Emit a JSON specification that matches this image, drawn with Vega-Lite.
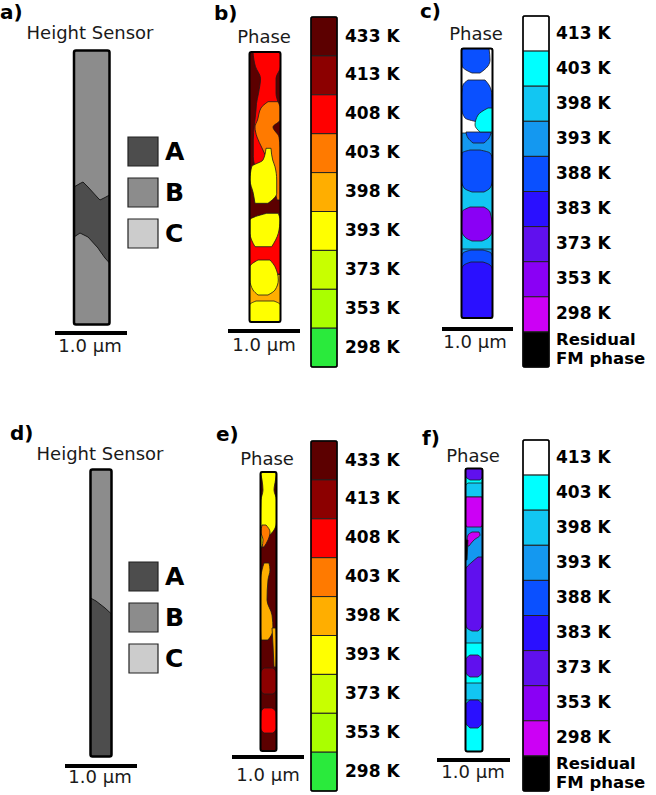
{
"$schema": "https://vega.github.io/schema/vega-lite/v6.json",
"width": 656, "height": 795, "padding": 0,
"autosize": {"type": "none"},
"background": "white",
"config": {"view": {"stroke": null}},
"datasets": {
"rects": [
{"x1":74,"x2":109.5,"y1":50.5,"y2":324.5,"fill":"#8c8c8c","sw":0},
{"x1":249.5,"x2":280.5,"y1":52,"y2":322,"fill":"#5c0000","sw":0},
{"x1":461.5,"x2":492.5,"y1":48.5,"y2":318,"fill":"#1498f0","sw":0},
{"x1":90.5,"x2":111.5,"y1":469.5,"y2":756.5,"fill":"#4d4d4d","sw":0},
{"x1":260.5,"x2":276.5,"y1":472,"y2":751,"fill":"#5c0000","sw":0},
{"x1":465.5,"x2":482.5,"y1":468.5,"y2":751.5,"fill":"#00ffff","sw":0},
{"x1":128,"x2":158,"y1":137,"y2":166,"fill":"#4d4d4d","sw":1.2},
{"x1":128,"x2":158,"y1":178,"y2":207,"fill":"#8c8c8c","sw":1.2},
{"x1":128,"x2":158,"y1":219,"y2":248,"fill":"#cccccc","sw":1.2},
{"x1":129,"x2":158,"y1":562,"y2":591,"fill":"#4d4d4d","sw":1.2},
{"x1":129,"x2":158,"y1":603,"y2":632,"fill":"#8c8c8c","sw":1.2},
{"x1":129,"x2":158,"y1":644,"y2":673,"fill":"#cccccc","sw":1.2},
{"x1":311,"x2":337,"y1":17,"y2":55.9,"fill":"#5c0000","sw":1},
{"x1":311,"x2":337,"y1":55.9,"y2":94.8,"fill":"#8c0000","sw":1},
{"x1":311,"x2":337,"y1":94.8,"y2":133.7,"fill":"#ff0000","sw":1},
{"x1":311,"x2":337,"y1":133.7,"y2":172.6,"fill":"#ff7a00","sw":1},
{"x1":311,"x2":337,"y1":172.6,"y2":211.5,"fill":"#ffae00","sw":1},
{"x1":311,"x2":337,"y1":211.5,"y2":250.4,"fill":"#ffff00","sw":1},
{"x1":311,"x2":337,"y1":250.4,"y2":289.3,"fill":"#c8ff00","sw":1},
{"x1":311,"x2":337,"y1":289.3,"y2":328.2,"fill":"#aaff00","sw":1},
{"x1":311,"x2":337,"y1":328.2,"y2":367,"fill":"#2aea3c","sw":1},
{"x1":311,"x2":337,"y1":441,"y2":479.9,"fill":"#5c0000","sw":1},
{"x1":311,"x2":337,"y1":479.9,"y2":518.8,"fill":"#8c0000","sw":1},
{"x1":311,"x2":337,"y1":518.8,"y2":557.7,"fill":"#ff0000","sw":1},
{"x1":311,"x2":337,"y1":557.7,"y2":596.6,"fill":"#ff7a00","sw":1},
{"x1":311,"x2":337,"y1":596.6,"y2":635.5,"fill":"#ffae00","sw":1},
{"x1":311,"x2":337,"y1":635.5,"y2":674.4,"fill":"#ffff00","sw":1},
{"x1":311,"x2":337,"y1":674.4,"y2":713.3,"fill":"#c8ff00","sw":1},
{"x1":311,"x2":337,"y1":713.3,"y2":752.2,"fill":"#aaff00","sw":1},
{"x1":311,"x2":337,"y1":752.2,"y2":791,"fill":"#2aea3c","sw":1},
{"x1":523,"x2":549,"y1":16,"y2":51.1,"fill":"#ffffff","sw":1},
{"x1":523,"x2":549,"y1":51.1,"y2":86.2,"fill":"#00ffff","sw":1},
{"x1":523,"x2":549,"y1":86.2,"y2":121.3,"fill":"#12c6f2","sw":1},
{"x1":523,"x2":549,"y1":121.3,"y2":156.4,"fill":"#1498f0","sw":1},
{"x1":523,"x2":549,"y1":156.4,"y2":191.5,"fill":"#0a50ff","sw":1},
{"x1":523,"x2":549,"y1":191.5,"y2":226.6,"fill":"#2a10ff","sw":1},
{"x1":523,"x2":549,"y1":226.6,"y2":261.7,"fill":"#6010ee","sw":1},
{"x1":523,"x2":549,"y1":261.7,"y2":296.8,"fill":"#8a00f5","sw":1},
{"x1":523,"x2":549,"y1":296.8,"y2":331.9,"fill":"#cc00f5","sw":1},
{"x1":523,"x2":549,"y1":331.9,"y2":367,"fill":"#000000","sw":1},
{"x1":523,"x2":549,"y1":440,"y2":475.1,"fill":"#ffffff","sw":1},
{"x1":523,"x2":549,"y1":475.1,"y2":510.2,"fill":"#00ffff","sw":1},
{"x1":523,"x2":549,"y1":510.2,"y2":545.3,"fill":"#12c6f2","sw":1},
{"x1":523,"x2":549,"y1":545.3,"y2":580.4,"fill":"#1498f0","sw":1},
{"x1":523,"x2":549,"y1":580.4,"y2":615.5,"fill":"#0a50ff","sw":1},
{"x1":523,"x2":549,"y1":615.5,"y2":650.6,"fill":"#2a10ff","sw":1},
{"x1":523,"x2":549,"y1":650.6,"y2":685.7,"fill":"#6010ee","sw":1},
{"x1":523,"x2":549,"y1":685.7,"y2":720.8,"fill":"#8a00f5","sw":1},
{"x1":523,"x2":549,"y1":720.8,"y2":755.9,"fill":"#cc00f5","sw":1},
{"x1":523,"x2":549,"y1":755.9,"y2":791,"fill":"#000000","sw":1}
],
"outlines": [
{"x1":74,"x2":109.5,"y1":50.5,"y2":324.5,"sw":2.5},
{"x1":249.5,"x2":280.5,"y1":52,"y2":322,"sw":2},
{"x1":461.5,"x2":492.5,"y1":48.5,"y2":318,"sw":2},
{"x1":90.5,"x2":111.5,"y1":469.5,"y2":756.5,"sw":2.5},
{"x1":260.5,"x2":276.5,"y1":472,"y2":751,"sw":2},
{"x1":465.5,"x2":482.5,"y1":468.5,"y2":751.5,"sw":2},
{"x1":311,"x2":337,"y1":17,"y2":367,"sw":1.5},
{"x1":311,"x2":337,"y1":441,"y2":791,"sw":1.5},
{"x1":523,"x2":549,"y1":16,"y2":367,"sw":1.5},
{"x1":523,"x2":549,"y1":440,"y2":791,"sw":1.5}
],
"vreg": [
{"r":"aA","fill":"#4d4d4d","x":74,"ya":187,"yb":237},
{"r":"aA","fill":"#4d4d4d","x":80,"ya":183.5,"yb":233},
{"r":"aA","fill":"#4d4d4d","x":83,"ya":182,"yb":234.5},
{"r":"aA","fill":"#4d4d4d","x":88,"ya":187,"yb":237},
{"r":"aA","fill":"#4d4d4d","x":98,"ya":198,"yb":248},
{"r":"aA","fill":"#4d4d4d","x":100,"ya":200,"yb":251},
{"r":"aA","fill":"#4d4d4d","x":105,"ya":197.5,"yb":258},
{"r":"aA","fill":"#4d4d4d","x":109.5,"ya":195,"yb":263},
{"r":"dB","fill":"#8c8c8c","x":90.5,"ya":469.5,"yb":598},
{"r":"dB","fill":"#8c8c8c","x":96,"ya":469.5,"yb":601},
{"r":"dB","fill":"#8c8c8c","x":105,"ya":469.5,"yb":608},
{"r":"dB","fill":"#8c8c8c","x":111.5,"ya":469.5,"yb":614}
],
"hreg": [
{"r":"bR1","z":1,"fill":"#ff0000","y":52,"xa":253,"xb":280.5},
{"r":"bR1","z":1,"fill":"#ff0000","y":66.7,"xa":255.5,"xb":280.5},
{"r":"bR1","z":1,"fill":"#ff0000","y":78.3,"xa":260.5,"xb":276},
{"r":"bR1","z":1,"fill":"#ff0000","y":93.3,"xa":258.5,"xb":276},
{"r":"bR1","z":1,"fill":"#ff0000","y":103.3,"xa":256.5,"xb":278.3},
{"r":"bR1","z":1,"fill":"#ff0000","y":110,"xa":256,"xb":280},
{"r":"bR1","z":1,"fill":"#ff0000","y":140,"xa":253.3,"xb":266.7},
{"r":"bR1","z":1,"fill":"#ff0000","y":156.7,"xa":253.3,"xb":266.7},
{"r":"bR1","z":1,"fill":"#ff0000","y":166.7,"xa":255,"xb":260},
{"r":"bR2","z":1,"fill":"#ff0000","y":224,"xa":249.5,"xb":280.5},
{"r":"bR2","z":1,"fill":"#ff0000","y":274,"xa":249.5,"xb":280.5},
{"r":"bO2","z":1,"fill":"#ffae00","y":274.5,"xa":249.5,"xb":280.5},
{"r":"bO2","z":1,"fill":"#ffae00","y":305,"xa":249.5,"xb":280.5},
{"r":"bO1","z":2,"fill":"#ff7a00","y":101.7,"xa":268,"xb":278},
{"r":"bO1","z":2,"fill":"#ff7a00","y":108,"xa":261,"xb":280},
{"r":"bO1","z":2,"fill":"#ff7a00","y":120,"xa":257.5,"xb":280},
{"r":"bO1","z":2,"fill":"#ff7a00","y":127,"xa":255,"xb":273},
{"r":"bO1","z":2,"fill":"#ff7a00","y":137,"xa":257,"xb":279},
{"r":"bO1","z":2,"fill":"#ff7a00","y":148,"xa":262,"xb":280},
{"r":"bO1","z":2,"fill":"#ff7a00","y":166.7,"xa":270,"xb":280},
{"r":"bO1","z":2,"fill":"#ff7a00","y":186.7,"xa":274,"xb":280},
{"r":"bO1","z":2,"fill":"#ff7a00","y":200,"xa":277,"xb":280},
{"r":"bY1","z":3,"fill":"#ffff00","y":148.3,"xa":266,"xb":271},
{"r":"bY1","z":3,"fill":"#ffff00","y":160,"xa":263,"xb":272.7},
{"r":"bY1","z":3,"fill":"#ffff00","y":166.7,"xa":251.7,"xb":275},
{"r":"bY1","z":3,"fill":"#ffff00","y":180,"xa":250,"xb":276.7},
{"r":"bY1","z":3,"fill":"#ffff00","y":193.3,"xa":253.3,"xb":276.7},
{"r":"bY1","z":3,"fill":"#ffff00","y":203.3,"xa":255,"xb":268},
{"r":"bY2","z":3,"fill":"#ffff00","y":213.3,"xa":266.7,"xb":278.3},
{"r":"bY2","z":3,"fill":"#ffff00","y":220,"xa":250,"xb":280},
{"r":"bY2","z":3,"fill":"#ffff00","y":233.3,"xa":250,"xb":278.3},
{"r":"bY2","z":3,"fill":"#ffff00","y":246.7,"xa":255,"xb":271.7},
{"r":"bY3","z":3,"fill":"#ffff00","y":260,"xa":258,"xb":270},
{"r":"bY3","z":3,"fill":"#ffff00","y":266.7,"xa":250,"xb":275},
{"r":"bY3","z":3,"fill":"#ffff00","y":280,"xa":250,"xb":278.3},
{"r":"bY3","z":3,"fill":"#ffff00","y":290,"xa":253,"xb":275},
{"r":"bY3","z":3,"fill":"#ffff00","y":295,"xa":258,"xb":268},
{"r":"bY4","z":3,"fill":"#ffff00","y":301,"xa":256,"xb":274},
{"r":"bY4","z":3,"fill":"#ffff00","y":305,"xa":249.5,"xb":280.5},
{"r":"bY4","z":3,"fill":"#ffff00","y":322,"xa":249.5,"xb":280.5},
{"r":"cW","z":1,"fill":"#ffffff","y":48.5,"xa":461.5,"xb":492.5},
{"r":"cW","z":1,"fill":"#ffffff","y":133,"xa":461.5,"xb":492.5},
{"r":"c398","z":1,"fill":"#12c6f2","y":185,"xa":461.5,"xb":492.5},
{"r":"c398","z":1,"fill":"#12c6f2","y":249,"xa":461.5,"xb":492.5},
{"r":"c388arc","z":1,"fill":"#0a50ff","y":250,"xa":471,"xb":483},
{"r":"c388arc","z":1,"fill":"#0a50ff","y":253,"xa":463,"xb":491},
{"r":"c388arc","z":1,"fill":"#0a50ff","y":258,"xa":461.5,"xb":492.5},
{"r":"c388arc","z":1,"fill":"#0a50ff","y":268,"xa":461.5,"xb":492.5},
{"r":"c388top","z":2,"fill":"#0a50ff","y":48.5,"xa":461.5,"xb":489},
{"r":"c388top","z":2,"fill":"#0a50ff","y":60,"xa":461.5,"xb":490},
{"r":"c388top","z":2,"fill":"#0a50ff","y":66,"xa":462,"xb":488},
{"r":"c388top","z":2,"fill":"#0a50ff","y":70,"xa":466,"xb":484},
{"r":"c388top","z":2,"fill":"#0a50ff","y":73,"xa":472,"xb":480},
{"r":"c388b2","z":2,"fill":"#0a50ff","y":80,"xa":468,"xb":485},
{"r":"c388b2","z":2,"fill":"#0a50ff","y":85,"xa":463,"xb":489},
{"r":"c388b2","z":2,"fill":"#0a50ff","y":95,"xa":461.5,"xb":492},
{"r":"c388b2","z":2,"fill":"#0a50ff","y":108,"xa":461.5,"xb":492.5},
{"r":"c388b2","z":2,"fill":"#0a50ff","y":118,"xa":465,"xb":488},
{"r":"c388b2","z":2,"fill":"#0a50ff","y":122,"xa":478,"xb":484},
{"r":"c388s","z":2,"fill":"#0a50ff","y":132,"xa":466,"xb":491},
{"r":"c388s","z":2,"fill":"#0a50ff","y":138,"xa":468,"xb":489},
{"r":"c388s","z":2,"fill":"#0a50ff","y":143,"xa":473,"xb":484},
{"r":"c388big","z":2,"fill":"#0a50ff","y":150,"xa":470,"xb":480},
{"r":"c388big","z":2,"fill":"#0a50ff","y":153,"xa":462,"xb":490},
{"r":"c388big","z":2,"fill":"#0a50ff","y":160,"xa":461.5,"xb":492.5},
{"r":"c388big","z":2,"fill":"#0a50ff","y":180,"xa":461.5,"xb":492.5},
{"r":"c388big","z":2,"fill":"#0a50ff","y":188,"xa":464,"xb":490},
{"r":"c388big","z":2,"fill":"#0a50ff","y":192,"xa":472,"xb":484},
{"r":"c353","z":2,"fill":"#8a00f5","y":207,"xa":470,"xb":484},
{"r":"c353","z":2,"fill":"#8a00f5","y":212,"xa":462,"xb":490},
{"r":"c353","z":2,"fill":"#8a00f5","y":230,"xa":461.5,"xb":492.5},
{"r":"c353","z":2,"fill":"#8a00f5","y":238,"xa":466,"xb":488},
{"r":"c353","z":2,"fill":"#8a00f5","y":241,"xa":472,"xb":482},
{"r":"c383","z":2,"fill":"#2a10ff","y":262,"xa":471,"xb":483},
{"r":"c383","z":2,"fill":"#2a10ff","y":265,"xa":464,"xb":490},
{"r":"c383","z":2,"fill":"#2a10ff","y":270,"xa":461.5,"xb":492.5},
{"r":"c383","z":2,"fill":"#2a10ff","y":318,"xa":461.5,"xb":492.5},
{"r":"ccyan","z":3,"fill":"#00ffff","y":108,"xa":488,"xb":492.5},
{"r":"ccyan","z":3,"fill":"#00ffff","y":115,"xa":478,"xb":492.5},
{"r":"ccyan","z":3,"fill":"#00ffff","y":125,"xa":475,"xb":492.5},
{"r":"ccyan","z":3,"fill":"#00ffff","y":132,"xa":480,"xb":492.5},
{"r":"eY","z":1,"fill":"#ffff00","y":472,"xa":260.5,"xb":276.5},
{"r":"eY","z":1,"fill":"#ffff00","y":480,"xa":262,"xb":275.5},
{"r":"eY","z":1,"fill":"#ffff00","y":490,"xa":263,"xb":274},
{"r":"eY","z":1,"fill":"#ffff00","y":500,"xa":261,"xb":276.5},
{"r":"eY","z":1,"fill":"#ffff00","y":522,"xa":260.5,"xb":276.5},
{"r":"eY","z":1,"fill":"#ffff00","y":530,"xa":260.5,"xb":274},
{"r":"eY","z":1,"fill":"#ffff00","y":537,"xa":260.5,"xb":268},
{"r":"eY","z":1,"fill":"#ffff00","y":545,"xa":260.5,"xb":263},
{"r":"eY","z":1,"fill":"#ffff00","y":548,"xa":260.5,"xb":261},
{"r":"eA","z":1,"fill":"#ffae00","y":563,"xa":264,"xb":269},
{"r":"eA","z":1,"fill":"#ffae00","y":570,"xa":262,"xb":270},
{"r":"eA","z":1,"fill":"#ffae00","y":580,"xa":260.5,"xb":268},
{"r":"eA","z":1,"fill":"#ffae00","y":600,"xa":260.5,"xb":267},
{"r":"eA","z":1,"fill":"#ffae00","y":615,"xa":260.5,"xb":272},
{"r":"eA","z":1,"fill":"#ffae00","y":630,"xa":260.5,"xb":273},
{"r":"eA","z":1,"fill":"#ffae00","y":640,"xa":261,"xb":268},
{"r":"eAt","z":1,"fill":"#ffae00","y":628,"xa":272,"xb":276},
{"r":"eAt","z":1,"fill":"#ffae00","y":645,"xa":273,"xb":276.5},
{"r":"eAt","z":1,"fill":"#ffae00","y":667,"xa":274,"xb":276},
{"r":"e413","z":1,"fill":"#8c0000","y":668,"xa":264,"xb":273},
{"r":"e413","z":1,"fill":"#8c0000","y":673,"xa":260.5,"xb":276.5},
{"r":"e413","z":1,"fill":"#8c0000","y":690,"xa":260.5,"xb":276.5},
{"r":"e413","z":1,"fill":"#8c0000","y":694,"xa":264,"xb":273},
{"r":"eR","z":1,"fill":"#ff0000","y":708,"xa":264,"xb":272},
{"r":"eR","z":1,"fill":"#ff0000","y":712,"xa":261,"xb":276},
{"r":"eR","z":1,"fill":"#ff0000","y":728,"xa":260.5,"xb":276.5},
{"r":"eR","z":1,"fill":"#ff0000","y":733,"xa":264,"xb":273},
{"r":"eO","z":2,"fill":"#ff7a00","y":525,"xa":262,"xb":266},
{"r":"eO","z":2,"fill":"#ff7a00","y":532,"xa":261,"xb":270},
{"r":"eO","z":2,"fill":"#ff7a00","y":540,"xa":263,"xb":268},
{"r":"eO","z":2,"fill":"#ff7a00","y":547,"xa":262,"xb":264},
{"r":"ftop","z":1,"fill":"#6010ee","y":468.5,"xa":465.5,"xb":482.5},
{"r":"ftop","z":1,"fill":"#6010ee","y":476,"xa":465.5,"xb":482.5},
{"r":"ftop","z":1,"fill":"#6010ee","y":480,"xa":470,"xb":480},
{"r":"f398a","z":1,"fill":"#12c6f2","y":483,"xa":468,"xb":482.5},
{"r":"f398a","z":1,"fill":"#12c6f2","y":486,"xa":465.5,"xb":482.5},
{"r":"f398a","z":1,"fill":"#12c6f2","y":497,"xa":465.5,"xb":482.5},
{"r":"f393","z":1,"fill":"#1498f0","y":526,"xa":465.5,"xb":482.5},
{"r":"f393","z":1,"fill":"#1498f0","y":575,"xa":465.5,"xb":482.5},
{"r":"f398b","z":1,"fill":"#12c6f2","y":627,"xa":465.5,"xb":482.5},
{"r":"f398b","z":1,"fill":"#12c6f2","y":643,"xa":465.5,"xb":482.5},
{"r":"f398c","z":1,"fill":"#12c6f2","y":683,"xa":465.5,"xb":482.5},
{"r":"f398c","z":1,"fill":"#12c6f2","y":700,"xa":465.5,"xb":482.5},
{"r":"fmag","z":2,"fill":"#cc00f5","y":497,"xa":466,"xb":482},
{"r":"fmag","z":2,"fill":"#cc00f5","y":500,"xa":465.5,"xb":482.5},
{"r":"fmag","z":2,"fill":"#cc00f5","y":524,"xa":465.5,"xb":482.5},
{"r":"fmag","z":2,"fill":"#cc00f5","y":527,"xa":467,"xb":481},
{"r":"f373","z":2,"fill":"#6010ee","y":557,"xa":478,"xb":482.5},
{"r":"f373","z":2,"fill":"#6010ee","y":562,"xa":472,"xb":482.5},
{"r":"f373","z":2,"fill":"#6010ee","y":570,"xa":465.5,"xb":482.5},
{"r":"f373","z":2,"fill":"#6010ee","y":622,"xa":465.5,"xb":482.5},
{"r":"f373","z":2,"fill":"#6010ee","y":628,"xa":467,"xb":481},
{"r":"f373","z":2,"fill":"#6010ee","y":631,"xa":472,"xb":478},
{"r":"f373s","z":2,"fill":"#6010ee","y":655,"xa":470,"xb":478},
{"r":"f373s","z":2,"fill":"#6010ee","y":660,"xa":465.5,"xb":482.5},
{"r":"f373s","z":2,"fill":"#6010ee","y":672,"xa":465.5,"xb":482.5},
{"r":"f373s","z":2,"fill":"#6010ee","y":677,"xa":470,"xb":478},
{"r":"f383","z":2,"fill":"#2a10ff","y":700,"xa":470,"xb":478},
{"r":"f383","z":2,"fill":"#2a10ff","y":705,"xa":465.5,"xb":482.5},
{"r":"f383","z":2,"fill":"#2a10ff","y":722,"xa":465.5,"xb":482.5},
{"r":"f383","z":2,"fill":"#2a10ff","y":728,"xa":470,"xb":478},
{"r":"fmag2","z":3,"fill":"#cc00f5","y":532,"xa":472,"xb":479},
{"r":"fmag2","z":3,"fill":"#cc00f5","y":535,"xa":468,"xb":480},
{"r":"fmag2","z":3,"fill":"#cc00f5","y":540,"xa":467,"xb":474},
{"r":"fmag2","z":3,"fill":"#cc00f5","y":546,"xa":466,"xb":469},
{"r":"fblk","z":3,"fill":"#000000","y":540,"xa":465.5,"xb":468},
{"r":"fblk","z":3,"fill":"#000000","y":560,"xa":465.5,"xb":467}
],
"rules": [
{"x1":55,"x2":127,"y":333},
{"x1":228,"x2":300,"y":331},
{"x1":442,"x2":513,"y":329},
{"x1":65,"x2":137,"y":766},
{"x1":232,"x2":304,"y":757},
{"x1":437,"x2":510,"y":760}
],
"regtext": [
{"t":"Height Sensor","x":90,"y":34},
{"t":"Phase","x":264,"y":38},
{"t":"Phase","x":476,"y":35},
{"t":"Height Sensor","x":100,"y":455},
{"t":"Phase","x":267,"y":460},
{"t":"Phase","x":473,"y":457},
{"t":"1.0 µm","x":90,"y":347},
{"t":"1.0 µm","x":264,"y":346},
{"t":"1.0 µm","x":475,"y":343},
{"t":"1.0 µm","x":100,"y":778},
{"t":"1.0 µm","x":268,"y":776},
{"t":"1.0 µm","x":473,"y":773}
],
"boldtext": [
{"t":"a)","x":0,"y":12.5,"s":20},
{"t":"b)","x":214,"y":13.5,"s":20},
{"t":"c)","x":420,"y":12,"s":20},
{"t":"d)","x":10,"y":434,"s":20},
{"t":"e)","x":216,"y":435,"s":20},
{"t":"f)","x":422,"y":439,"s":20},
{"t":"A","x":165,"y":152,"s":25},
{"t":"B","x":165,"y":193,"s":25},
{"t":"C","x":165,"y":234,"s":25},
{"t":"A","x":165,"y":577,"s":25},
{"t":"B","x":165,"y":618,"s":25},
{"t":"C","x":165,"y":659,"s":25},
{"t":"433 K","x":345,"y":36.5,"s":17},
{"t":"413 K","x":345,"y":75.4,"s":17},
{"t":"408 K","x":345,"y":114.3,"s":17},
{"t":"403 K","x":345,"y":153.2,"s":17},
{"t":"398 K","x":345,"y":192.1,"s":17},
{"t":"393 K","x":345,"y":231,"s":17},
{"t":"373 K","x":345,"y":269.9,"s":17},
{"t":"353 K","x":345,"y":308.8,"s":17},
{"t":"298 K","x":345,"y":347.6,"s":17},
{"t":"433 K","x":345,"y":460.5,"s":17},
{"t":"413 K","x":345,"y":499.4,"s":17},
{"t":"408 K","x":345,"y":538.3,"s":17},
{"t":"403 K","x":345,"y":577.2,"s":17},
{"t":"398 K","x":345,"y":616.1,"s":17},
{"t":"393 K","x":345,"y":655,"s":17},
{"t":"373 K","x":345,"y":693.9,"s":17},
{"t":"353 K","x":345,"y":732.8,"s":17},
{"t":"298 K","x":345,"y":771.6,"s":17},
{"t":"413 K","x":556,"y":33.6,"s":17},
{"t":"403 K","x":556,"y":68.7,"s":17},
{"t":"398 K","x":556,"y":103.8,"s":17},
{"t":"393 K","x":556,"y":138.9,"s":17},
{"t":"388 K","x":556,"y":174,"s":17},
{"t":"383 K","x":556,"y":209.1,"s":17},
{"t":"373 K","x":556,"y":244.2,"s":17},
{"t":"353 K","x":556,"y":279.3,"s":17},
{"t":"298 K","x":556,"y":314.4,"s":17},
{"t":"Residual","x":556,"y":339.5,"s":16.5},
{"t":"FM phase","x":556,"y":358.5,"s":16.5},
{"t":"413 K","x":556,"y":457.6,"s":17},
{"t":"403 K","x":556,"y":492.7,"s":17},
{"t":"398 K","x":556,"y":527.8,"s":17},
{"t":"393 K","x":556,"y":562.9,"s":17},
{"t":"388 K","x":556,"y":598,"s":17},
{"t":"383 K","x":556,"y":633.1,"s":17},
{"t":"373 K","x":556,"y":668.2,"s":17},
{"t":"353 K","x":556,"y":703.3,"s":17},
{"t":"298 K","x":556,"y":738.4,"s":17},
{"t":"Residual","x":556,"y":763.5,"s":16.5},
{"t":"FM phase","x":556,"y":782.5,"s":16.5}
]
},
"layer": [
{
"data": {"name": "rects"},
"mark": {"type": "rect", "stroke": "#222222"},
"encoding": {
"x": {"field": "x1", "type": "quantitative", "scale": {"domain": [0, 656], "nice": false, "zero": false}, "axis": null},
"x2": {"field": "x2"},
"y": {"field": "y1", "type": "quantitative", "scale": {"domain": [0, 795], "nice": false, "zero": false, "reverse": true}, "axis": null},
"y2": {"field": "y2"},
"fill": {"field": "fill", "type": "nominal", "scale": null},
"strokeWidth": {"field": "sw", "type": "quantitative", "scale": null}
}
},
{
"data": {"name": "vreg"},
"mark": {"type": "area", "orient": "vertical", "stroke": "#1a1a1a", "strokeWidth": 1, "interpolate": "linear"},
"encoding": {
"x": {"field": "x", "type": "quantitative", "scale": {"domain": [0, 656], "nice": false, "zero": false}, "axis": null},
"y": {"field": "ya", "type": "quantitative", "scale": {"domain": [0, 795], "nice": false, "zero": false, "reverse": true}, "axis": null},
"y2": {"field": "yb"},
"fill": {"field": "fill", "type": "nominal", "scale": null},
"detail": {"field": "r", "type": "nominal"}
}
},
{
"data": {"name": "hreg"},
"transform": [{"filter": "datum.z == 1"}],
"mark": {"type": "area", "orient": "horizontal", "stroke": "#1a1a1a", "strokeWidth": 0.8, "interpolate": "monotone"},
"encoding": {
"y": {"field": "y", "type": "quantitative", "scale": {"domain": [0, 795], "nice": false, "zero": false, "reverse": true}, "axis": null},
"x": {"field": "xa", "type": "quantitative", "scale": {"domain": [0, 656], "nice": false, "zero": false}, "axis": null},
"x2": {"field": "xb"},
"fill": {"field": "fill", "type": "nominal", "scale": null},
"detail": {"field": "r", "type": "nominal"}
}
},
{
"data": {"name": "hreg"},
"transform": [{"filter": "datum.z == 2"}],
"mark": {"type": "area", "orient": "horizontal", "stroke": "#1a1a1a", "strokeWidth": 0.8, "interpolate": "monotone"},
"encoding": {
"y": {"field": "y", "type": "quantitative", "scale": {"domain": [0, 795], "nice": false, "zero": false, "reverse": true}, "axis": null},
"x": {"field": "xa", "type": "quantitative", "scale": {"domain": [0, 656], "nice": false, "zero": false}, "axis": null},
"x2": {"field": "xb"},
"fill": {"field": "fill", "type": "nominal", "scale": null},
"detail": {"field": "r", "type": "nominal"}
}
},
{
"data": {"name": "hreg"},
"transform": [{"filter": "datum.z == 3"}],
"mark": {"type": "area", "orient": "horizontal", "stroke": "#1a1a1a", "strokeWidth": 0.8, "interpolate": "monotone"},
"encoding": {
"y": {"field": "y", "type": "quantitative", "scale": {"domain": [0, 795], "nice": false, "zero": false, "reverse": true}, "axis": null},
"x": {"field": "xa", "type": "quantitative", "scale": {"domain": [0, 656], "nice": false, "zero": false}, "axis": null},
"x2": {"field": "xb"},
"fill": {"field": "fill", "type": "nominal", "scale": null},
"detail": {"field": "r", "type": "nominal"}
}
},
{
"data": {"name": "outlines"},
"mark": {"type": "rect", "fill": null, "fillOpacity": 0, "stroke": "#000000", "cornerRadius": 2},
"encoding": {
"x": {"field": "x1", "type": "quantitative", "scale": {"domain": [0, 656], "nice": false, "zero": false}, "axis": null},
"x2": {"field": "x2"},
"y": {"field": "y1", "type": "quantitative", "scale": {"domain": [0, 795], "nice": false, "zero": false, "reverse": true}, "axis": null},
"y2": {"field": "y2"},
"strokeWidth": {"field": "sw", "type": "quantitative", "scale": null}
}
},
{
"data": {"name": "rules"},
"mark": {"type": "rule", "color": "#000000", "strokeWidth": 4},
"encoding": {
"x": {"field": "x1", "type": "quantitative", "scale": {"domain": [0, 656], "nice": false, "zero": false}, "axis": null},
"x2": {"field": "x2"},
"y": {"field": "y", "type": "quantitative", "scale": {"domain": [0, 795], "nice": false, "zero": false, "reverse": true}, "axis": null}
}
},
{
"data": {"name": "regtext"},
"mark": {"type": "text", "font": "DejaVu Sans", "fontSize": 18, "align": "center", "baseline": "middle", "color": "#1a1a1a"},
"encoding": {
"x": {"field": "x", "type": "quantitative", "scale": {"domain": [0, 656], "nice": false, "zero": false}, "axis": null},
"y": {"field": "y", "type": "quantitative", "scale": {"domain": [0, 795], "nice": false, "zero": false, "reverse": true}, "axis": null},
"text": {"field": "t"}
}
},
{
"data": {"name": "boldtext"},
"mark": {"type": "text", "font": "DejaVu Sans", "fontWeight": "bold", "align": "left", "baseline": "middle", "color": "#000000"},
"encoding": {
"x": {"field": "x", "type": "quantitative", "scale": {"domain": [0, 656], "nice": false, "zero": false}, "axis": null},
"y": {"field": "y", "type": "quantitative", "scale": {"domain": [0, 795], "nice": false, "zero": false, "reverse": true}, "axis": null},
"text": {"field": "t"},
"size": {"field": "s", "type": "quantitative", "scale": null}
}
}
]
}
